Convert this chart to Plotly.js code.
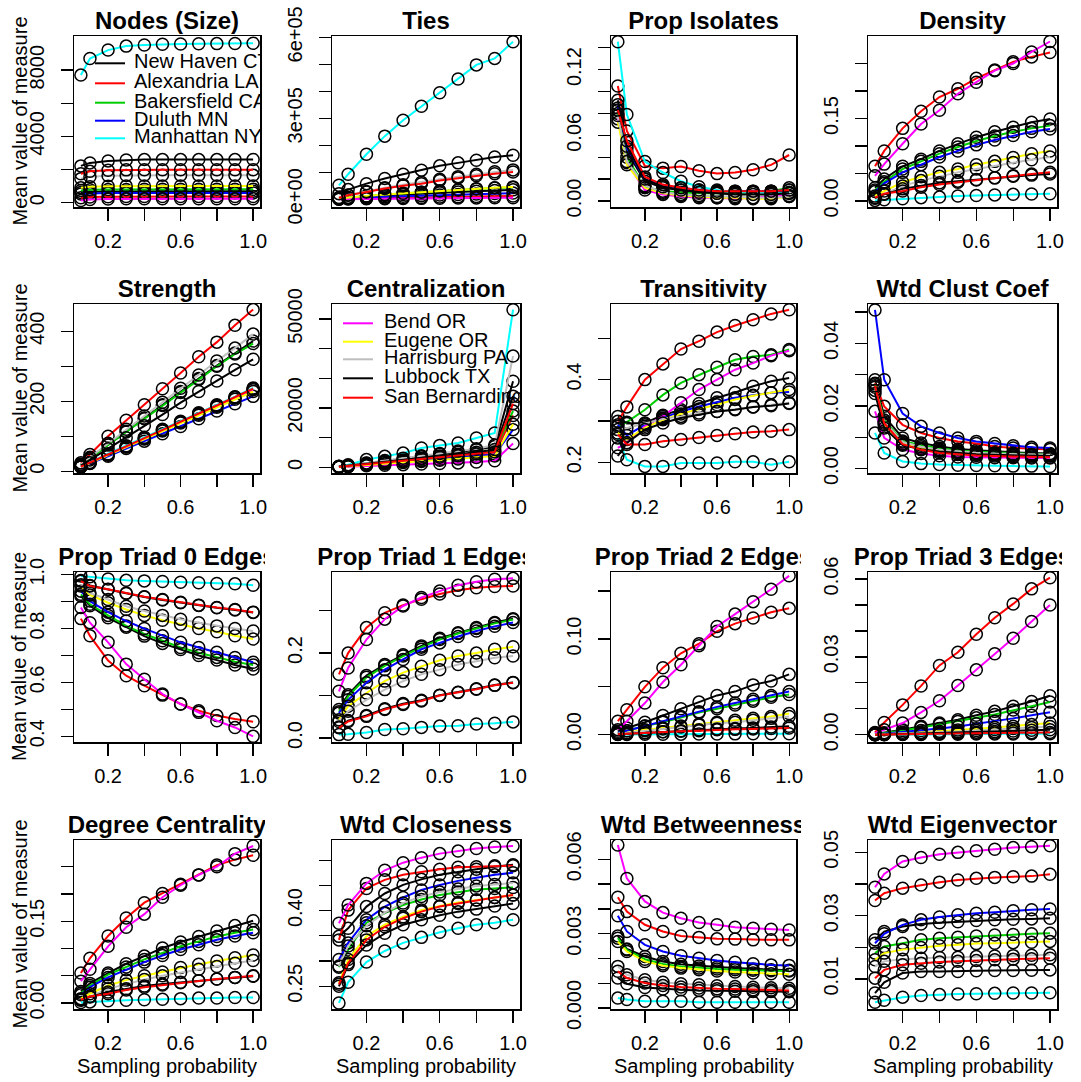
<!DOCTYPE html>
<html><head><meta charset="utf-8">
<script src="https://cdn.plot.ly/plotly-3.0.1.min.js"></script>
<style>html,body{margin:0;padding:0;background:#fff}#chart{width:1081px;height:1082px}</style>
</head><body><div id="chart"></div>
<script>
// ---------------- DATA ----------------
const probs = [0.05,0.1,0.2,0.3,0.4,0.5,0.6,0.7,0.8,0.9,1.0];
const cities = ['New Haven CT','Alexandria LA','Bakersfield CA','Duluth MN','Manhattan NY','Bend OR','Eugene OR','Harrisburg PA','Lubbock TX','San Bernardino'];
const cityColors = ['#000000','#FF0000','#00CD00','#0000FF','#00FFFF','#FF00FF','#FFFF00','#BEBEBE','#000000','#FF0000'];
const xTickVals = [0.2,0.4,0.6,0.8,1.0];
const xTickText = ['0.2','','0.6','','1.0'];

// order of rows in every measure: cities[0..9]
const nodesSize = [
 [620,660,680,690,690,690,690,690,690,690,690],
 [300,340,360,370,372,372,372,372,372,372,372],
 [730,775,795,800,805,805,805,805,805,805,805],
 [520,560,580,585,590,590,590,590,590,590,590],
 [7700,8700,9210,9450,9520,9560,9580,9590,9600,9610,9620],
 [130,190,225,235,240,240,240,240,240,240,240],
 [900,960,990,1000,1005,1005,1005,1005,1005,1005,1005],
 [1450,1560,1620,1640,1650,1650,1650,1650,1650,1650,1650],
 [2220,2400,2520,2580,2600,2600,2600,2600,2600,2600,2610],
 [1750,1900,1960,1980,1990,1990,1990,1990,1990,1990,1990]];
const ties = [
 [3000,6000,10000,14000,18000,21000,24000,27500,30000,33000,35000],
 [1000,2000,3500,5000,6000,7000,8300,9400,10300,11300,12000],
 [3000,6500,12000,17500,22000,26000,30500,34500,38000,41500,44000],
 [1500,3500,6500,9500,11500,13500,16000,18000,19500,21500,23000],
 [52000,93000,167000,234000,293000,345000,395000,446000,498000,522000,584000],
 [500,1000,1800,2500,3000,3500,4100,4700,5200,5600,6000],
 [3000,7000,12500,18000,22500,26500,31000,35500,39500,43000,46000],
 [7000,16000,29000,43000,54000,63000,74000,84000,93000,102000,109000],
 [21000,36000,58000,77000,93000,108000,124000,135000,145000,157000,163000],
 [6000,15000,27000,40000,50000,58000,70000,79000,87000,95000,101000]];
const propIsolates = [
 [0.085,0.045,0.018,0.012,0.010,0.009,0.008,0.008,0.008,0.008,0.008],
 [0.105,0.064,0.032,0.030,0.0315,0.0276,0.025,0.026,0.0285,0.033,0.042],
 [0.080,0.040,0.013,0.009,0.008,0.007,0.007,0.007,0.008,0.009,0.012],
 [0.088,0.048,0.020,0.014,0.012,0.010,0.009,0.009,0.009,0.009,0.010],
 [0.1455,0.079,0.036,0.026,0.018,0.013,0.010,0.008,0.008,0.007,0.007],
 [0.075,0.035,0.010,0.006,0.004,0.003,0.003,0.002,0.003,0.004,0.005],
 [0.072,0.033,0.012,0.007,0.005,0.004,0.003,0.003,0.002,0.002,0.004],
 [0.078,0.036,0.014,0.008,0.006,0.005,0.004,0.004,0.003,0.003,0.004],
 [0.092,0.050,0.020,0.013,0.010,0.008,0.007,0.006,0.006,0.006,0.007],
 [0.083,0.055,0.022,0.015,0.012,0.010,0.009,0.009,0.009,0.009,0.010]];
const density = [
 [0.024,0.040,0.063,0.076,0.091,0.104,0.116,0.126,0.134,0.143,0.149],
 [0.063,0.091,0.132,0.163,0.189,0.204,0.223,0.238,0.253,0.262,0.270],
 [0.020,0.035,0.058,0.072,0.086,0.098,0.109,0.118,0.126,0.132,0.137],
 [0.017,0.032,0.052,0.066,0.080,0.091,0.102,0.111,0.119,0.126,0.131],
 [0.001,0.002,0.004,0.006,0.007,0.009,0.010,0.011,0.012,0.0125,0.013],
 [0.0457,0.067,0.104,0.140,0.165,0.195,0.216,0.237,0.250,0.271,0.290],
 [0.009,0.018,0.034,0.044,0.052,0.058,0.066,0.072,0.079,0.086,0.091],
 [0.006,0.013,0.027,0.037,0.045,0.052,0.058,0.064,0.070,0.075,0.080],
 [0.005,0.012,0.022,0.028,0.033,0.036,0.039,0.042,0.045,0.047,0.049],
 [0.006,0.013,0.018,0.025,0.030,0.034,0.038,0.042,0.046,0.049,0.052]];
const strength = [
 [19,38,77,114,152,190,228,265,302,338,372],
 [24,48,100,146,190,236,281,327,369,417,462],
 [18,36,75,112,150,188,225,262,300,335,365],
 [12,22,43,65,86,107,128,150,172,193,214],
 [14,25,50,73,97,120,143,167,190,213,238],
 [13,24,47,70,93,117,140,163,186,210,233],
 [13,23,46,69,92,115,138,160,183,206,228],
 [20,40,80,120,158,197,237,275,315,352,392],
 [16,32,64,96,130,162,196,228,258,290,320],
 [13,24,48,71,95,118,141,165,188,212,236]];
const centralization = [
 [250,550,1400,2100,2900,3600,4400,5100,5900,7000,29000],
 [150,350,900,1400,1900,2400,2900,3400,3900,4500,17500],
 [200,450,1100,1700,2300,2900,3500,4000,4700,5500,19000],
 [150,350,900,1300,1800,2300,2700,3200,3700,4300,12700],
 [340,900,2600,3700,4800,6500,7400,8200,9900,11600,53150],
 [100,200,500,700,900,1100,1300,1500,1800,2200,8000],
 [150,300,800,1200,1600,2000,2400,2800,3300,3800,14500],
 [300,600,1500,2300,3100,3900,4700,5500,6300,7500,37500],
 [250,500,1200,1900,2500,3100,3800,4400,5100,6000,24000],
 [200,450,1100,1700,2200,2800,3400,3900,4500,5200,21500]];
const transitivity = [
 [0.311,0.294,0.295,0.314,0.327,0.342,0.356,0.369,0.384,0.396,0.404],
 [0.299,0.334,0.400,0.438,0.474,0.493,0.515,0.531,0.545,0.559,0.569],
 [0.287,0.297,0.327,0.363,0.392,0.412,0.430,0.448,0.456,0.460,0.473],
 [0.291,0.265,0.291,0.307,0.323,0.335,0.346,0.356,0.362,0.368,0.370],
 [0.259,0.206,0.190,0.190,0.198,0.198,0.198,0.201,0.201,0.194,0.201],
 [0.235,0.247,0.287,0.311,0.344,0.376,0.400,0.424,0.440,0.458,0.470],
 [0.271,0.255,0.283,0.303,0.317,0.329,0.339,0.352,0.361,0.368,0.376],
 [0.279,0.283,0.294,0.305,0.311,0.319,0.323,0.329,0.334,0.339,0.344],
 [0.215,0.247,0.279,0.295,0.307,0.315,0.323,0.327,0.334,0.337,0.342],
 [0.267,0.243,0.243,0.251,0.255,0.260,0.265,0.269,0.273,0.275,0.279]];
const wtdClustCoef = [
 [0.0284,0.0167,0.0098,0.0082,0.0071,0.0063,0.0059,0.0055,0.0052,0.0050,0.0048],
 [0.0273,0.0199,0.0140,0.0114,0.0098,0.0087,0.0080,0.0071,0.0066,0.0063,0.0061],
 [0.0270,0.0155,0.0088,0.0075,0.0065,0.0058,0.0054,0.0051,0.0049,0.0047,0.0046],
 [0.0507,0.0284,0.0176,0.0135,0.0114,0.0098,0.0087,0.0080,0.0073,0.0068,0.0066],
 [0.0114,0.0050,0.0023,0.0016,0.0013,0.0011,0.0010,0.0009,0.0008,0.0008,0.0007],
 [0.0183,0.0098,0.0061,0.0048,0.0041,0.0037,0.0036,0.0035,0.0035,0.0034,0.0034],
 [0.0250,0.0140,0.0080,0.0065,0.0057,0.0052,0.0048,0.0045,0.0043,0.0042,0.0041],
 [0.0260,0.0150,0.0085,0.0070,0.0060,0.0055,0.0051,0.0048,0.0046,0.0045,0.0044],
 [0.0240,0.0130,0.0075,0.0062,0.0055,0.0050,0.0046,0.0044,0.0042,0.0041,0.0040],
 [0.0265,0.0145,0.0078,0.0060,0.0050,0.0045,0.0042,0.0040,0.0038,0.0037,0.0036]];
const propTriad0 = [
 [0.921,0.885,0.840,0.805,0.772,0.745,0.722,0.700,0.683,0.665,0.650],
 [0.837,0.773,0.681,0.625,0.588,0.553,0.520,0.495,0.477,0.464,0.454],
 [0.927,0.890,0.849,0.810,0.780,0.755,0.730,0.710,0.693,0.677,0.665],
 [0.939,0.902,0.861,0.828,0.800,0.773,0.749,0.730,0.712,0.693,0.675],
 [0.995,0.992,0.984,0.979,0.977,0.975,0.972,0.970,0.967,0.966,0.961],
 [0.878,0.822,0.749,0.668,0.612,0.557,0.520,0.489,0.458,0.433,0.400],
 [0.958,0.925,0.896,0.871,0.849,0.831,0.816,0.800,0.788,0.773,0.761],
 [0.963,0.932,0.908,0.883,0.865,0.849,0.835,0.822,0.810,0.800,0.791],
 [0.978,0.960,0.945,0.930,0.917,0.906,0.896,0.886,0.877,0.869,0.860],
 [0.976,0.958,0.946,0.932,0.918,0.908,0.898,0.887,0.878,0.871,0.861]];
const propTriad1 = [
 [0.067,0.102,0.147,0.173,0.196,0.217,0.235,0.248,0.260,0.272,0.281],
 [0.150,0.200,0.260,0.295,0.313,0.327,0.339,0.348,0.354,0.357,0.358],
 [0.062,0.098,0.143,0.170,0.193,0.214,0.232,0.246,0.258,0.270,0.279],
 [0.059,0.090,0.130,0.161,0.185,0.209,0.224,0.239,0.252,0.263,0.272],
 [0.008,0.009,0.013,0.020,0.022,0.025,0.028,0.029,0.033,0.035,0.038],
 [0.110,0.165,0.232,0.280,0.311,0.331,0.346,0.360,0.368,0.374,0.376],
 [0.043,0.075,0.106,0.134,0.154,0.169,0.183,0.193,0.200,0.209,0.215],
 [0.039,0.063,0.090,0.114,0.134,0.150,0.161,0.173,0.181,0.189,0.193],
 [0.026,0.041,0.053,0.069,0.081,0.089,0.101,0.108,0.116,0.125,0.131],
 [0.024,0.039,0.051,0.067,0.079,0.087,0.100,0.107,0.115,0.124,0.130]];
const propTriad2 = [
 [0.0035,0.007,0.013,0.020,0.027,0.034,0.041,0.045,0.052,0.056,0.063],
 [0.014,0.026,0.050,0.070,0.085,0.095,0.108,0.116,0.122,0.128,0.132],
 [0.002,0.004,0.009,0.013,0.018,0.023,0.027,0.031,0.035,0.039,0.042],
 [0.002,0.004,0.009,0.014,0.019,0.024,0.029,0.033,0.037,0.041,0.045],
 [0.0001,0.0002,0.0003,0.0004,0.0005,0.0006,0.0007,0.0008,0.0009,0.001,0.001],
 [0.0052,0.014,0.033,0.055,0.073,0.093,0.113,0.126,0.139,0.152,0.166],
 [0.001,0.002,0.005,0.007,0.009,0.011,0.013,0.015,0.017,0.019,0.022],
 [0.001,0.002,0.004,0.006,0.008,0.010,0.012,0.013,0.015,0.017,0.019],
 [0.0005,0.001,0.002,0.003,0.004,0.005,0.006,0.0065,0.007,0.008,0.0087],
 [0.0005,0.001,0.002,0.003,0.0035,0.004,0.005,0.0055,0.006,0.0065,0.007]];
const propTriad3 = [
 [0.0003,0.0008,0.0019,0.0033,0.0045,0.0058,0.0075,0.0090,0.0110,0.0128,0.0150],
 [0.0009,0.0047,0.0115,0.0188,0.0267,0.0318,0.0387,0.0451,0.0504,0.0562,0.0605],
 [0.0002,0.0006,0.0016,0.0028,0.0040,0.0051,0.0065,0.0078,0.0095,0.0110,0.0126],
 [0.0001,0.0004,0.0010,0.0016,0.0024,0.0032,0.0042,0.0052,0.0063,0.0075,0.0087],
 [0.0000,0.0000,0.0001,0.0001,0.0002,0.0002,0.0003,0.0003,0.0003,0.0004,0.0004],
 [0.0006,0.0019,0.0045,0.0086,0.0131,0.0190,0.0250,0.0312,0.0372,0.0436,0.0500],
 [0.0001,0.0002,0.0005,0.0009,0.0013,0.0018,0.0023,0.0028,0.0033,0.0039,0.0045],
 [0.0001,0.0002,0.0004,0.0006,0.0009,0.0012,0.0016,0.0020,0.0024,0.0028,0.0032],
 [0.0000,0.0001,0.0003,0.0004,0.0006,0.0008,0.0010,0.0012,0.0014,0.0017,0.0019],
 [0.0000,0.0001,0.0002,0.0003,0.0004,0.0005,0.0006,0.0007,0.0007,0.0008,0.0009]];
const degreeCentrality = [
 [0.021,0.036,0.055,0.072,0.086,0.101,0.112,0.122,0.132,0.142,0.151],
 [0.055,0.082,0.123,0.156,0.184,0.201,0.218,0.235,0.253,0.263,0.271],
 [0.018,0.032,0.052,0.066,0.080,0.092,0.104,0.113,0.122,0.129,0.135],
 [0.015,0.029,0.047,0.061,0.075,0.087,0.098,0.107,0.116,0.123,0.129],
 [0.001,0.002,0.004,0.005,0.006,0.007,0.008,0.009,0.009,0.010,0.010],
 [0.040,0.062,0.104,0.139,0.163,0.194,0.216,0.235,0.250,0.274,0.288],
 [0.008,0.017,0.032,0.042,0.050,0.057,0.065,0.071,0.077,0.083,0.088],
 [0.006,0.012,0.026,0.035,0.043,0.050,0.056,0.062,0.067,0.073,0.078],
 [0.005,0.011,0.020,0.026,0.031,0.035,0.038,0.041,0.044,0.047,0.049],
 [0.006,0.012,0.017,0.024,0.029,0.033,0.037,0.041,0.044,0.047,0.050]];
const wtdCloseness = [
 [0.349,0.365,0.408,0.434,0.451,0.462,0.471,0.477,0.482,0.487,0.491],
 [0.342,0.401,0.444,0.461,0.471,0.477,0.482,0.486,0.487,0.489,0.489],
 [0.288,0.322,0.376,0.395,0.411,0.422,0.431,0.437,0.442,0.444,0.446],
 [0.303,0.336,0.382,0.408,0.426,0.441,0.451,0.459,0.465,0.471,0.475],
 [0.217,0.258,0.298,0.320,0.336,0.347,0.357,0.365,0.372,0.376,0.382],
 [0.375,0.411,0.454,0.480,0.495,0.505,0.513,0.518,0.523,0.526,0.528],
 [0.257,0.303,0.349,0.372,0.388,0.401,0.409,0.416,0.421,0.426,0.431],
 [0.290,0.330,0.370,0.396,0.415,0.428,0.437,0.443,0.449,0.452,0.455],
 [0.250,0.293,0.332,0.355,0.372,0.382,0.391,0.398,0.403,0.409,0.414],
 [0.254,0.296,0.342,0.368,0.385,0.398,0.408,0.414,0.421,0.426,0.431]];
const wtdBetweenness = [
 [0.00291,0.00238,0.00208,0.00188,0.00177,0.00170,0.00165,0.00161,0.00157,0.00154,0.00152],
 [0.00447,0.00389,0.00336,0.00309,0.00291,0.00285,0.00279,0.00278,0.00275,0.00275,0.00275],
 [0.00282,0.00235,0.00197,0.00178,0.00168,0.00161,0.00157,0.00154,0.00152,0.00150,0.00149],
 [0.00372,0.00309,0.00255,0.00228,0.00211,0.00201,0.00192,0.00185,0.00179,0.00174,0.00172],
 [0.00040,0.00034,0.00027,0.00027,0.00027,0.00023,0.00023,0.00023,0.00023,0.00023,0.00023],
 [0.00658,0.00523,0.00430,0.00385,0.00362,0.00345,0.00336,0.00326,0.00322,0.00318,0.00315],
 [0.00268,0.00228,0.00188,0.00171,0.00161,0.00154,0.00149,0.00145,0.00141,0.00138,0.00136],
 [0.00168,0.00134,0.00114,0.00104,0.00098,0.00094,0.00090,0.00087,0.00084,0.00082,0.00080],
 [0.00121,0.00098,0.00083,0.00077,0.00074,0.00071,0.00070,0.00068,0.00067,0.00067,0.00066],
 [0.00148,0.00121,0.00101,0.00091,0.00085,0.00081,0.00078,0.00077,0.00074,0.00073,0.00071]];
const wtdEigenvector = [
 [0.0224,0.0250,0.0266,0.0274,0.0278,0.0281,0.0285,0.0287,0.0289,0.0290,0.0292],
 [0.0348,0.0371,0.0387,0.0397,0.0406,0.0413,0.0418,0.0421,0.0423,0.0425,0.0431],
 [0.0182,0.0203,0.0213,0.0224,0.0229,0.0232,0.0236,0.0239,0.0241,0.0243,0.0245],
 [0.0213,0.0243,0.0271,0.0287,0.0296,0.0303,0.0308,0.0311,0.0316,0.0319,0.0321],
 [0.0027,0.0033,0.0043,0.0048,0.0051,0.0053,0.0054,0.0055,0.0056,0.0056,0.0057],
 [0.0390,0.0432,0.0471,0.0484,0.0494,0.0500,0.0505,0.0510,0.0515,0.0518,0.0521],
 [0.0161,0.0182,0.0193,0.0200,0.0205,0.0208,0.0212,0.0213,0.0215,0.0216,0.0219],
 [0.0140,0.0156,0.0163,0.0166,0.0168,0.0169,0.0171,0.0173,0.0174,0.0175,0.0177],
 [0.0056,0.0090,0.0119,0.0124,0.0124,0.0124,0.0126,0.0127,0.0127,0.0128,0.0129],
 [0.0103,0.0129,0.0145,0.0150,0.0154,0.0156,0.0159,0.0161,0.0163,0.0164,0.0166]];

const panelTitles = ['Nodes (Size)','Ties','Prop Isolates','Density','Strength','Centralization','Transitivity','Wtd Clust Coef',
 'Prop Triad 0 Edges','Prop Triad 1 Edges','Prop Triad 2 Edges','Prop Triad 3 Edges','Degree Centrality','Wtd Closeness','Wtd Betweenness','Wtd Eigenvector'];
const panelData = [nodesSize,ties,propIsolates,density,strength,centralization,transitivity,wtdClustCoef,
 propTriad0,propTriad1,propTriad2,propTriad3,degreeCentrality,wtdCloseness,wtdBetweenness,wtdEigenvector];
const yTickVals = [
 [0,2000,4000,6000,8000],[0,1e5,2e5,3e5,4e5,5e5,6e5],[0,0.02,0.04,0.06,0.08,0.10,0.12,0.14],[0,0.05,0.10,0.15,0.20,0.25],
 [0,100,200,300,400],[0,10000,20000,30000,40000,50000],[0.2,0.3,0.4,0.5],[0,0.01,0.02,0.03,0.04,0.05],
 [0.4,0.5,0.6,0.7,0.8,0.9,1.0],[0,0.1,0.2,0.3],[0,0.05,0.10,0.15],[0,0.01,0.02,0.03,0.04,0.05,0.06],
 [0,0.05,0.10,0.15,0.20,0.25],[0.25,0.30,0.35,0.40,0.45,0.50],[0,0.001,0.002,0.003,0.004,0.005,0.006],[0.01,0.02,0.03,0.04,0.05]];
const yTickText = [
 ['0','','4000','','8000'],['0e+00','','','3e+05','','','6e+05'],['0.00','','','0.06','','','0.12',''],['0.00','','','0.15','',''],
 ['0','','200','','400'],['0','','20000','','','50000'],['0.2','','0.4',''],['0.00','','0.02','','0.04',''],
 ['0.4','','0.6','','0.8','','1.0'],['0.0','','0.2',''],['0.00','','0.10',''],['0.00','','','0.03','','','0.06'],
 ['0.00','','','0.15','',''],['0.25','','','0.40','',''],['0.000','','','0.003','','','0.006'],['0.01','','0.03','','0.05']];

// ---------------- LAYOUT (pixels) ----------------
const W=1081, H=1082;
const colL=[74,332,611,868], colR=[260,520,796,1057];
const rowT=[36,304,572,840], rowB=[207,473,742,1009];
const xRange=[0.012,1.038];
const yRanges=[[-262,10060],[-28500,605000],[-0.0055,0.1507],[-0.011,0.300],
 [-5,478],[-1910,55060],[0.174,0.583],[-0.0014,0.0526],
 [0.379,1.010],[-0.0094,0.391],[-0.0077,0.170],[-0.0028,0.0627],
 [-0.011,0.299],[0.205,0.540],[-0.00004,0.00678],[0.00056,0.0539]];
const FONT='"Liberation Sans", Arial, Helvetica, sans-serif';

const traces=[];
const layout={width:W,height:H,margin:{l:0,r:0,t:0,b:0},paper_bgcolor:'#ffffff',plot_bgcolor:'rgba(0,0,0,0)',
  showlegend:false,font:{family:FONT,color:'#000'},shapes:[],annotations:[]};
const axCommon={showline:true,mirror:true,linecolor:'#000',linewidth:1.5,ticks:'outside',ticklen:12,tickwidth:1.3,
  tickcolor:'#000',showgrid:false,zeroline:false,fixedrange:true,tickfont:{family:FONT,size:20,color:'#000'},tickmode:'array'};

panelTitles.forEach((t,i)=>{
  const r=Math.floor(i/4), c=i%4, k=i+1;
  const sx=k===1?'':String(k);
  layout['xaxis'+sx]=Object.assign({},axCommon,{domain:[colL[c]/W,colR[c]/W],anchor:'y'+sx,range:xRange,
     tickvals:xTickVals,ticktext:xTickText,ticklabelstandoff:3});
  layout['yaxis'+sx]=Object.assign({},axCommon,{domain:[1-rowB[r]/H,1-rowT[r]/H],anchor:'x'+sx,range:yRanges[i],
     tickvals:yTickVals[i],ticktext:yTickText[i],tickangle:-90,ticklabelstandoff:9});
  panelData[i].forEach((ys,s)=>{
    traces.push({type:'scatter',mode:'lines+markers',x:probs,y:ys,xaxis:'x'+sx,yaxis:'y'+sx,name:cities[s],
      line:{color:cityColors[s],width:2},
      marker:{symbol:'circle-open',size:12,color:'#000',line:{width:1.5,color:'#000'}},hoverinfo:'skip'});
  });
  // title in an overlay subplot so it is clipped like the original
  const tk=16+k;
  const l=colL[c]-70, rr=colR[c]+5;
  const tTop=rowT[r]-34, tBot=rowT[r]+4;
  layout['xaxis'+tk]={domain:[l/W,rr/W],range:[0,1],visible:false,fixedrange:true,anchor:'y'+tk};
  layout['yaxis'+tk]={domain:[1-tBot/H,1-tTop/H],range:[0,1],visible:false,fixedrange:true,anchor:'x'+tk};
  traces.push({type:'scatter',mode:'text',x:[((colL[c]+colR[c])/2-l)/(rr-l)],y:[(tBot-(rowT[r]-13))/(tBot-tTop)],text:['<b>'+t+'</b>'],
    textposition:'middle center',textfont:{family:FONT,size:24,color:'#000'},xaxis:'x'+tk,yaxis:'y'+tk,cliponaxis:true,hoverinfo:'skip'});
  if(c===0){
    layout.annotations.push({text:'Mean value of measure',xref:'paper',yref:'paper',x:19/W,y:1-(rowT[r]+rowB[r])/2/H,
      textangle:-90,showarrow:false,font:{family:FONT,size:20,color:'#000'},xanchor:'center',yanchor:'middle'});
  }
  if(r===3){
    layout.annotations.push({text:'Sampling probability',xref:'paper',yref:'paper',x:(colL[c]+colR[c])/2/W,y:1-1066/H,
      showarrow:false,font:{family:FONT,size:20,color:'#000'},xanchor:'center',yanchor:'middle'});
  }
});

// legends drawn inside panels 1 and 6 (clipped to the plot box)
function addLegend(panelIdx, seriesIdx, lineX0, lineX1, textX, rowsY){
  const r=Math.floor(panelIdx/4), c=panelIdx%4, k=panelIdx+1, sx=k===1?'':String(k);
  const yr=yRanges[panelIdx];
  const toX=px=>xRange[0]+(px-colL[c])/(colR[c]-colL[c])*(xRange[1]-xRange[0]);
  const toY=py=>yr[1]-(py-rowT[r])/(rowB[r]-rowT[r])*(yr[1]-yr[0]);
  seriesIdx.forEach((s,j)=>{
    layout.shapes.push({type:'line',xref:'paper',yref:'paper',x0:lineX0/W,x1:lineX1/W,y0:1-rowsY[j]/H,y1:1-rowsY[j]/H,
      line:{color:cityColors[s],width:2}});
  });
  traces.push({type:'scatter',mode:'text',x:seriesIdx.map(()=>toX(textX)),y:rowsY.map(toY),text:seriesIdx.map(s=>cities[s]),
    textposition:'middle right',textfont:{family:FONT,size:20,color:'#000'},xaxis:'x'+sx,yaxis:'y'+sx,cliponaxis:true,hoverinfo:'skip'});
}
addLegend(0,[0,1,2,3,4],95,125,134,[63.3,83.3,102.7,120.7,138.3]);
addLegend(5,[5,6,7,8,9],343,373,384,[323.3,341.7,359.3,378.3,397.7]);

Plotly.newPlot('chart',traces,layout,{staticPlot:true,displayModeBar:false});
</script></body></html>
